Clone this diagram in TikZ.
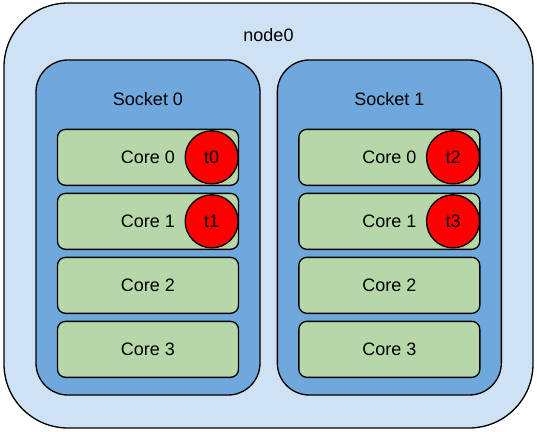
\documentclass[tikz,border=0pt]{standalone}
\usepackage{fontspec}
\setmainfont{Liberation Sans}
\usetikzlibrary{positioning}
\definecolor{nodeblue}{HTML}{CFE2F3}
\definecolor{socketblue}{HTML}{6FA8DC}
\definecolor{coregreen}{HTML}{B6D7A8}

\begin{document}
\begin{tikzpicture}[
        x=0.75pt, y=-0.75pt,
        node distance=5pt,
        font=\fontsize{13.5}{16}\selectfont,
        machine/.style={rectangle, draw, line width=1pt, fill=nodeblue, rounded corners=48pt, minimum width=396.75pt, minimum height=318.75pt},
        socket/.style={rectangle, draw, line width=1pt, fill=socketblue, rounded corners=24pt, minimum width=168pt, minimum height=251.25pt},
        core/.style={rectangle, draw, line width=1pt, fill=coregreen, rounded corners=6pt, minimum width=135.75pt, minimum height=42pt},
        thread/.style={circle, draw, line width=1pt, fill=red, minimum size=39.75pt, inner sep=0pt}
    ]
        \useasboundingbox (0,0) rectangle (537,432);

        % Node
        \node[machine] (node0) at (268.5,215.5) {};
        \node (nodelabel) at ([yshift=-24.75pt]node0.north) {node0};

        % Sockets
        \node[socket] (s0) at (148,227.5) {};
        \node[socket] (s1) [right=12pt of s0] {};
        \node (s0label) at ([yshift=-30pt]s0.north) {Socket 0};
        \node (s1label) at ([yshift=-30pt]s1.north) {Socket 1};

        % Cores of socket 0
        \node[core] (c00) [below=52pt of s0.north] {Core 0};
        \node[core] (c01) [below=of c00] {Core 1};
        \node[core] (c02) [below=of c01] {Core 2};
        \node[core] (c03) [below=of c02] {Core 3};

        % Cores of socket 1
        \node[core] (c10) [below=52pt of s1.north] {Core 0};
        \node[core] (c11) [below=of c10] {Core 1};
        \node[core] (c12) [below=of c11] {Core 2};
        \node[core] (c13) [below=of c12] {Core 3};

        % Threads
        \node[thread] (t0) at ([xshift=-20.6pt]c00.east) {t0};
        \node[thread] (t1) at ([xshift=-20.6pt]c01.east) {t1};
        \node[thread] (t2) at ([xshift=-20.6pt]c10.east) {t2};
        \node[thread] (t3) at ([xshift=-20.6pt]c11.east) {t3};
    \end{tikzpicture}
\end{document}
